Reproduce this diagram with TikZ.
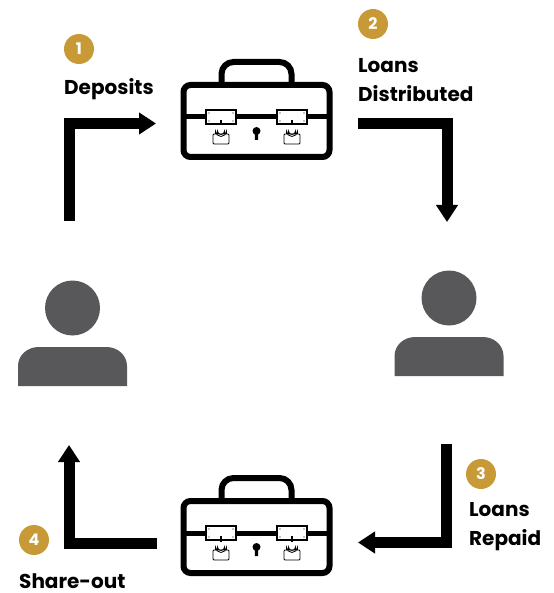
\documentclass[tikz,border=0pt]{standalone}
\usepackage{fontspec}
\setmainfont{Poppins}
\usetikzlibrary{arrows.meta}
\definecolor{badgegold}{HTML}{C79A37}
\definecolor{persongray}{HTML}{58585A}
\tikzset{
    flow/.style={line width=11pt, -{Triangle[length=17pt,width=21pt]}},
    badge/.style={circle, fill=badgegold, text=white, minimum size=30pt, inner sep=0pt, font=\fontsize{16}{16}\selectfont\bfseries},
    caption/.style={anchor=west, align=left, inner sep=0pt, font=\fontsize{20}{29}\selectfont\bfseries},
    lock/.pic={
        \draw[line width=0.8pt, fill=white, rounded corners=1pt] (-8,0) rectangle (8,10);
        \draw[line width=0.8pt] (-5.5,0) -- (-5.5,-3) arc (180:0:5.5) -- (5.5,0);
        \draw[line width=0.8pt] (-3.5,0) -- (-3.5,-3) arc (180:0:3.5) -- (3.5,0);
        \draw[line width=1.5pt] (0,-14) -- (0,-8.5);
    },
    latch/.pic={
        \draw[line width=2pt, fill=white] (-15,-7) rectangle (15,7);
        \foreach \dx/\dy in {-12/-4,12/-4,-12/4,12/4}
            \fill (\dx,\dy) circle (0.7pt);
    },
    briefcase/.pic={
        % handle and body
        \draw[line width=6pt, rounded corners=12pt] (-35,-33) -- (-35,-55) -- (35,-55) -- (35,-33);
        \draw[line width=6pt, fill=white, rounded corners=7pt] (-73,-32) rectangle (73,40);
        \draw[line width=5pt] (-73,0) -- (73,0);
        % latches and locks
        \foreach \side in {-1,1} {
            \pic at (\side*35.5,0) {latch};
            \pic at (\side*35.5,17) {lock};
        }
        % keyhole
        \fill (0,14) circle (4pt);
        \fill (-1.7,15) -- (1.7,15) -- (1.5,23) -- (-1.5,23) -- cycle;
    },
    person/.pic={
        \fill[persongray] (0,-39) circle (27.5pt);
        \fill[persongray] (-54.5,39) -- (-54.5,19) to[out=90,in=180] (-34,0) -- (34,0) to[out=0,in=90] (54.5,19) -- (54.5,39) -- cycle;
    }
}
\begin{document}
\begin{tikzpicture}[x=1pt, y=-1pt]
    \useasboundingbox (0,0) rectangle (553,593);

    % Valigette e persone
    \pic at (256.5,117) {briefcase};
    \pic at (256.5,533) {briefcase};
    \pic at (72.5,347) {person};
    \pic at (449,337) {person};

    % Vertici
    \coordinate (A) at (69.5,221);
    \coordinate (B) at (69.5,123.5);
    \coordinate (C) at (156,123.5);
    \coordinate (D) at (358,123.5);
    \coordinate (E) at (447,123.5);
    \coordinate (F) at (447,222);
    \coordinate (G) at (446.5,444);
    \coordinate (H) at (446.5,542.5);
    \coordinate (I) at (358,542.5);
    \coordinate (J) at (157,543);
    \coordinate (K) at (69,543);
    \coordinate (L) at (69,445);

    % Frecce
    \draw[flow] (A) -- (B) -- (C);
    \draw[flow] (D) -- (E) -- (F);
    \draw[flow] (G) -- (H) -- (I);
    \draw[flow] (J) -- (K) -- (L);

    % Numeri
    \node[badge] (one) at (79,49) {1};
    \node[badge] (two) at (373,24) {2};
    \node[badge] (three) at (481,474) {3};
    \node[badge] (four) at (34,540) {4};

    % Testi
    \node[caption] (deposits) at (64,89) {Deposits};
    \node[caption] (distributed) at (358,80.5) {Loans\\Distributed};
    \node[caption] (repaid) at (469,526.5) {Loans\\Repaid};
    \node[caption] (shareout) at (19,581) {Share-out};
\end{tikzpicture}
\end{document}
